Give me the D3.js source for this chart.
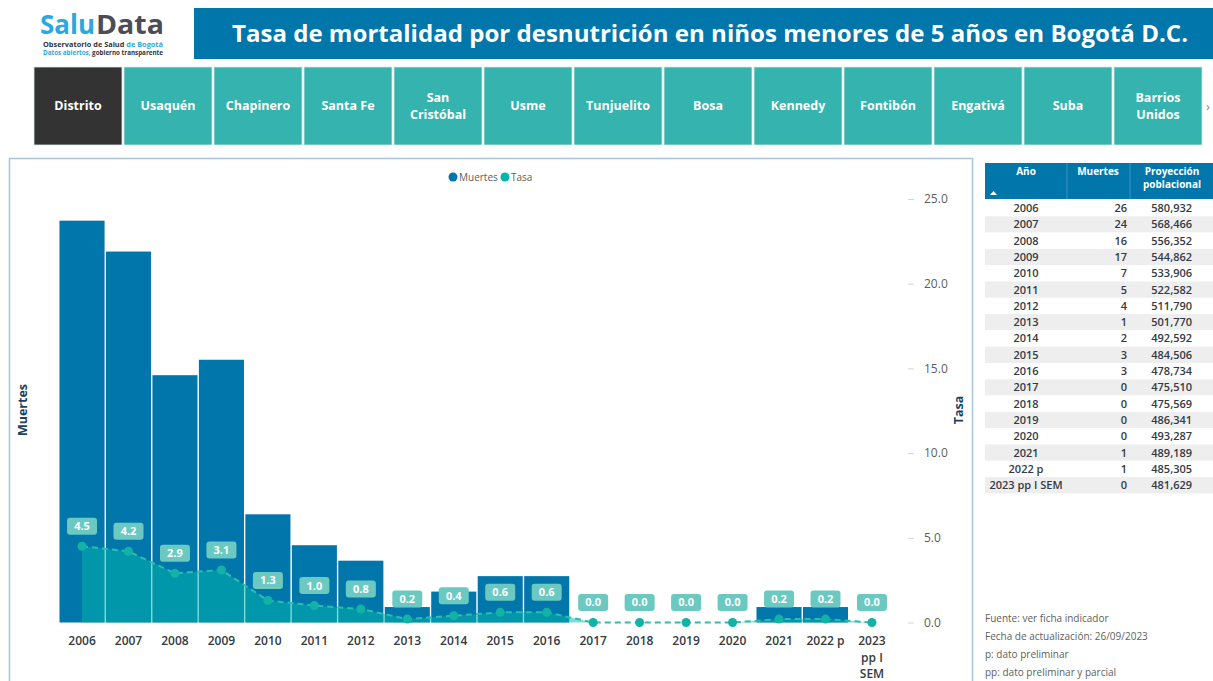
<!DOCTYPE html>
<html>
<head>
<meta charset="utf-8">
<script src="https://cdn.jsdelivr.net/npm/d3@7"></script>
<style>
  body { margin: 0; background: #fff; }
  svg { display: block; font-family: "Open Sans", "Noto Sans", sans-serif; }
</style>
</head>
<body>
<svg id="chart" width="1213" height="681"></svg>
<script>
// data
const years = ['2006','2007','2008','2009','2010','2011','2012','2013','2014','2015','2016','2017','2018','2019','2020','2021','2022 p','2023 pp I SEM'];
const muertes = [26,24,16,17,7,5,4,1,2,3,3,0,0,0,0,1,1,0];
const tasa = [4.5,4.2,2.9,3.1,1.3,1.0,0.8,0.2,0.4,0.6,0.6,0.0,0.0,0.0,0.0,0.2,0.2,0.0];
const poblacion = [580932,568466,556352,544862,533906,522582,511790,501770,492592,484506,478734,475510,475569,486341,493287,489189,485305,481629];
const tasaTicks = [0,5,10,15,20,25];
const tabs = ['Distrito','Usaquén','Chapinero','Santa Fe','San Cristóbal','Usme','Tunjuelito','Bosa','Kennedy','Fontibón','Engativá','Suba','Barrios Unidos'];
const notas = ['Fuente: ver ficha indicador','Fecha de actualización: 26/09/2023','p: dato preliminar','pp: dato preliminar y parcial'];

const svg = d3.select('#chart');

const barColor = '#0176aa';
const tealColor = '#01b8aa';
const labelFill = '#6bc9c1';
const headColor = '#0176aa';

// ---- header / logo
let logo = svg.append('g');
logo.append('text').attr('x', 40).attr('y', 34).attr('font-size', 26).attr('font-weight', 700)
    .attr('fill', '#2ba8e0').attr('textLength', 55).attr('lengthAdjust', 'spacingAndGlyphs').text('Salu');
logo.append('text').attr('x', 96).attr('y', 34).attr('font-size', 26).attr('font-weight', 700)
    .attr('fill', '#4a4d55').attr('textLength', 68).attr('lengthAdjust', 'spacingAndGlyphs').text('Data');
let sub1 = logo.append('text').attr('x', 43).attr('y', 47).attr('font-size', 6.5).attr('font-weight', 700)
    .attr('fill', '#2f3440').attr('textLength', 120).attr('lengthAdjust', 'spacingAndGlyphs');
sub1.append('tspan').text('Observatorio de Salud ');
sub1.append('tspan').attr('fill', '#2ba8e0').text('de Bogotá');
let sub2 = logo.append('text').attr('x', 43).attr('y', 55).attr('font-size', 6.5).attr('font-weight', 700)
    .attr('fill', '#2f3440').attr('textLength', 120).attr('lengthAdjust', 'spacingAndGlyphs');
sub2.append('tspan').attr('fill', '#2ba8e0').text('Datos abiertos, ');
sub2.append('tspan').text('gobierno transparente');

svg.append('rect').attr('x', 194).attr('y', 8).attr('width', 1019).attr('height', 51).attr('fill', headColor);
svg.append('text').attr('x', 710).attr('y', 42).attr('text-anchor', 'middle')
    .attr('font-size', 24).attr('font-weight', 700).attr('fill', '#fff')
    .attr('textLength', 956).attr('lengthAdjust', 'spacingAndGlyphs')
    .text('Tasa de mortalidad por desnutrición en niños menores de 5 años en Bogotá D.C.');

// ---- tabs
let tabG = svg.append('g');
tabs.forEach((t, i) => {
    let x = 34 + i * 90;
    tabG.append('rect').attr('x', x).attr('y', 67).attr('width', 88).attr('height', 78)
        .attr('fill', i == 0 ? '#333333' : '#35b3ae').attr('stroke', '#dde8e8').attr('stroke-width', 0.8);
    let lines = (t == 'San Cristóbal' || t == 'Barrios Unidos') ? t.split(' ') : [t];
    let txt = tabG.append('text').attr('text-anchor', 'middle')
        .attr('font-size', 12.5).attr('font-weight', 700).attr('fill', '#fff');
    lines.forEach((l, j) => {
        txt.append('tspan').attr('x', x + 44)
           .attr('y', 110 + (j - (lines.length - 1) / 2) * 17).text(l);
    });
});
svg.append('text').attr('x', 1206).attr('y', 111).attr('font-size', 13).attr('fill', '#888').text('›');

// ---- chart panel
svg.append('rect').attr('x', 9.5).attr('y', 158.5).attr('width', 963).attr('height', 600)
    .attr('fill', 'none').attr('stroke', '#aac5d6').attr('stroke-width', 1.5);

const x = d3.scaleBand().domain(years).range([58.8, 895.2]).paddingInner(0.03).paddingOuter(0.015);
const yMuertes = d3.scaleLinear().domain([0, 27.4]).range([622.5, 199]);
const yTasa = d3.scaleLinear().domain([0, 25]).range([622.5, 199]);
const cx = d => x(d) + x.bandwidth() / 2;

// bars
svg.append('g').selectAll('rect').data(years).join('rect')
    .attr('x', d => x(d))
    .attr('y', (d, i) => yMuertes(muertes[i]))
    .attr('width', x.bandwidth())
    .attr('height', (d, i) => yMuertes(0) - yMuertes(muertes[i]))
    .attr('fill', barColor);

// tasa area + dashed line
const pts = years.map((d, i) => [cx(d), yTasa(tasa[i])]);
svg.append('path').datum(pts)
    .attr('d', d3.area().x(d => d[0]).y0(yTasa(0)).y1(d => d[1]))
    .attr('fill', tealColor).attr('fill-opacity', 0.5);
svg.append('path').datum(pts)
    .attr('d', d3.line().x(d => d[0]).y(d => d[1]))
    .attr('fill', 'none').attr('stroke', '#2cbdb1').attr('stroke-width', 2)
    .attr('stroke-dasharray', '6,4');
svg.append('g').selectAll('circle').data(pts).join('circle')
    .attr('cx', d => d[0]).attr('cy', d => d[1]).attr('r', 4.5).attr('fill', '#12b3a6');

// data labels
let lab = svg.append('g').selectAll('g').data(years).join('g')
    .attr('transform', (d, i) => `translate(${cx(d)},${yTasa(tasa[i]) - 20})`);
lab.append('rect').attr('x', -15).attr('y', -8.5).attr('width', 30).attr('height', 17).attr('rx', 3)
    .attr('fill', labelFill);
lab.append('text').attr('text-anchor', 'middle').attr('dy', '0.36em')
    .attr('font-size', 11).attr('font-weight', 700).attr('fill', '#fff')
    .text((d, i) => d3.format('.1f')(tasa[i]));

// x axis labels (wrapped)
let xl = svg.append('g').selectAll('text').data(years).join('text')
    .attr('x', d => cx(d)).attr('y', 645).attr('text-anchor', 'middle')
    .attr('font-size', 12).attr('font-weight', 600).attr('fill', '#333a44');
xl.each(function(d) {
    let t = d3.select(this), words = d.split(' '), line = [];
    let tsp = t.append('tspan').attr('x', cx(d)).attr('dy', 0);
    words.forEach(w => {
        line.push(w);
        tsp.text(line.join(' '));
        if (tsp.node().getComputedTextLength() > 44 && line.length > 1) {
            line.pop();
            tsp.text(line.join(' '));
            line = [w];
            tsp = t.append('tspan').attr('x', cx(d)).attr('dy', 16.5).text(w);
        }
    });
});

// right axis
let ra = svg.append('g').attr('transform', 'translate(908,0)')
    .call(d3.axisRight(yTasa).tickValues(tasaTicks).tickFormat(d3.format('.1f')).tickSize(6).tickPadding(10));
ra.select('.domain').remove();
ra.selectAll('line').attr('stroke', '#d6d6d6');
ra.selectAll('text').attr('font-size', 12).attr('fill', '#605e5c').attr('font-family', '"Open Sans", sans-serif');

// axis titles
svg.append('text').attr('transform', 'translate(27,410) rotate(-90)').attr('text-anchor', 'middle')
    .attr('font-size', 12.5).attr('font-weight', 700).attr('fill', '#1c3f5e').text('Muertes');
svg.append('text').attr('transform', 'translate(963,410) rotate(-90)').attr('text-anchor', 'middle')
    .attr('font-size', 12.5).attr('font-weight', 700).attr('fill', '#1c3f5e').text('Tasa');

// legend
let leg = svg.append('g').attr('transform', 'translate(453,177)');
leg.append('circle').attr('r', 4.5).attr('fill', barColor);
leg.append('text').attr('x', 6).attr('dy', '0.35em').attr('font-size', 10).attr('fill', '#605e5c').text('Muertes');
leg.append('circle').attr('cx', 52).attr('r', 4.5).attr('fill', tealColor);
leg.append('text').attr('x', 58).attr('dy', '0.35em').attr('font-size', 10).attr('fill', '#605e5c').text('Tasa');

// ---- table
let tb = svg.append('g');
tb.append('rect').attr('x', 985).attr('y', 163).attr('width', 228).attr('height', 36).attr('fill', headColor);
[1067, 1130].forEach(v => tb.append('line').attr('x1', v).attr('x2', v).attr('y1', 163).attr('y2', 199)
    .attr('stroke', '#3b93bd').attr('stroke-width', 1));
const hdr = tb.append('g').attr('font-size', 10).attr('font-weight', 700).attr('fill', '#fff').attr('text-anchor', 'middle');
hdr.append('text').attr('x', 1026).attr('y', 175).text('Año');
hdr.append('text').attr('x', 1098).attr('y', 175).text('Muertes');
hdr.append('text').attr('x', 1172).attr('y', 175).text('Proyección');
hdr.append('text').attr('x', 1172).attr('y', 188).text('poblacional');
tb.append('path').attr('d', 'M990,195 L993.5,191 L997,195 Z').attr('fill', '#fff');

const rowH = 16.3;
let rows = tb.append('g').selectAll('g').data(years).join('g')
    .attr('transform', (d, i) => `translate(0,${200 + i * rowH})`);
rows.append('rect').attr('x', 985).attr('width', 228).attr('height', rowH)
    .attr('fill', (d, i) => i % 2 ? '#eeeeee' : '#ffffff');
rows.append('text').attr('x', 1026).attr('y', 12).attr('text-anchor', 'middle')
    .attr('font-size', 11).attr('font-weight', 600).attr('fill', '#333a44').text(d => d);
rows.append('text').attr('x', 1127).attr('y', 12).attr('text-anchor', 'end')
    .attr('font-size', 11).attr('font-weight', 600).attr('fill', '#333a44').text((d, i) => muertes[i]);
rows.append('text').attr('x', 1192).attr('y', 12).attr('text-anchor', 'end')
    .attr('font-size', 11).attr('font-weight', 600).attr('fill', '#333a44').text((d, i) => d3.format(',')(poblacion[i]));

// ---- notes
svg.append('g').selectAll('text').data(notas).join('text')
    .attr('x', 985).attr('y', (d, i) => 622 + i * 18)
    .attr('font-size', 10).attr('fill', '#605e5c').text(d => d);
</script>
</body>
</html>
